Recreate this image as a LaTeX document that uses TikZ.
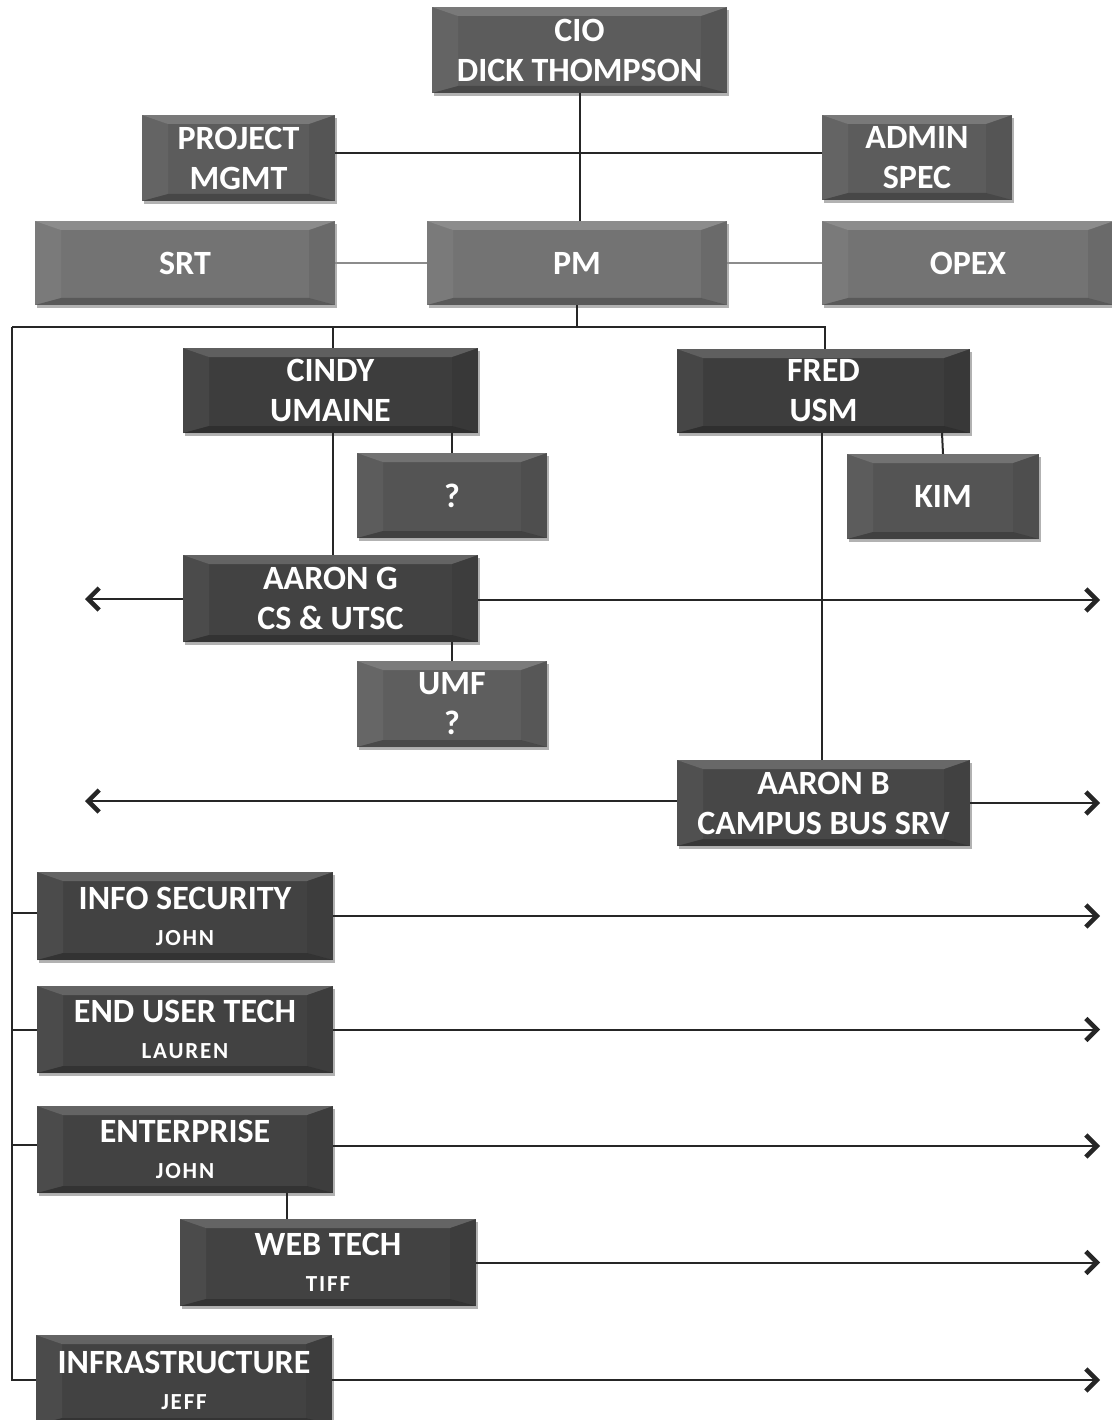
\documentclass[tikz,border=0pt]{standalone}
\usepackage{fontspec}
\setmainfont{Carlito}
\usetikzlibrary{arrows.meta,shadows}
\newcommand\subline[1]{\\[-4pt]{\fontsize{23}{26}\selectfont\addfontfeature{LetterSpace=8}#1}}
\tikzset{
  box/.style={fill=#1, text=white, align=center, inner sep=0pt,
    font=\bfseries\fontsize{34}{40}\selectfont,
    drop shadow={opacity=0.3, shadow xshift=2pt, shadow yshift=-3pt, fill=black},
    path picture={
      \fill[white,opacity=.18] (path picture bounding box.north west) -- (path picture bounding box.north east)
        -- ([xshift=-26pt,yshift=-9pt]path picture bounding box.north east) -- ([xshift=26pt,yshift=-9pt]path picture bounding box.north west) -- cycle;
      \fill[white,opacity=.05] (path picture bounding box.north west) -- ([xshift=26pt,yshift=-9pt]path picture bounding box.north west)
        -- ([xshift=26pt,yshift=7pt]path picture bounding box.south west) -- (path picture bounding box.south west) -- cycle;
      \fill[black,opacity=.07] (path picture bounding box.north east) -- ([xshift=-26pt,yshift=-9pt]path picture bounding box.north east)
        -- ([xshift=-26pt,yshift=7pt]path picture bounding box.south east) -- (path picture bounding box.south east) -- cycle;
      \fill[black,opacity=.22] (path picture bounding box.south west) -- ([xshift=26pt,yshift=7pt]path picture bounding box.south west)
        -- ([xshift=-26pt,yshift=7pt]path picture bounding box.south east) -- (path picture bounding box.south east) -- cycle;
    }},
  conn/.style={draw=black!85, line width=2pt},
  light/.style={draw=black!45, line width=1.5pt},
  arr/.style={conn, -{Straight Barb[length=11pt,width=22pt,line width=4.5pt 0]}},
}
\begin{document}
\begin{tikzpicture}[x=1pt,y=-1pt]
\useasboundingbox (0,0) rectangle (1111,1420);
% top
\node[box=black!64, minimum width=295, minimum height=86] (cio) at (579.5,50) {CIO\\DICK THOMPSON};
\node[box=black!64, minimum width=193, minimum height=86] (pmgmt) at (238.5,158) {PROJECT\\MGMT};
\node[box=black!64, minimum width=190, minimum height=85] (admin) at (917,157.5) {ADMIN\\SPEC};
\node[box=black!55, minimum width=300, minimum height=84] (srt) at (185,263) {SRT};
\node[box=black!55, minimum width=300, minimum height=84] (pm) at (577,263) {PM};
\node[box=black!55, minimum width=292, minimum height=84] (opex) at (968,263) {OPEX};
% middle
\node[box=black!76, minimum width=295, minimum height=85] (cindy) at (330.5,390.5) {CINDY\\UMAINE};
\node[box=black!76, minimum width=293, minimum height=84] (fred) at (823.5,391) {FRED\\USM};
\node[box=black!67, minimum width=190, minimum height=85] (q) at (452,495.5) {?};
\node[box=black!67, minimum width=192, minimum height=85] (kim) at (943,496.5) {KIM};
\node[box=black!74, minimum width=295, minimum height=87] (aarong) at (330.5,598.5) {AARON G\\CS \& UTSC};
\node[box=black!63, minimum width=190, minimum height=86] (umf) at (452,704) {UMF\\?};
\node[box=black!72, minimum width=293, minimum height=86] (aaronb) at (823.5,803) {AARON B\\CAMPUS BUS SRV};
% bottom
\node[box=black!74, minimum width=296, minimum height=88] (infosec) at (185,916) {INFO SECURITY\subline{JOHN}};
\node[box=black!74, minimum width=296, minimum height=87] (enduser) at (185,1029.5) {END USER TECH\subline{LAUREN}};
\node[box=black!74, minimum width=296, minimum height=87] (enterprise) at (185,1149.5) {ENTERPRISE\subline{JOHN}};
\node[box=black!74, minimum width=296, minimum height=87] (webtech) at (328,1262.5) {WEB TECH\subline{TIFF}};
\node[box=black!74, minimum width=296, minimum height=90] (infra) at (184,1380) {INFRASTRUCTURE\subline{JEFF}};
% coordinates
\coordinate (busL) at (12,327);
\coordinate (busR) at (825,327);
\coordinate (arrL) at (85,0);
\coordinate (arrR) at (1100,0);
% connectors
\draw[conn] (cio.south) -- (cio.south |- pm.north);
\draw[conn] (pmgmt.east |- 0,153) -- (admin.west |- 0,153);
\draw[light] (srt.east) -- (pm.west);
\draw[light] (pm.east) -- (opex.west);
\draw[conn] (pm.south) -- (pm.south |- busL);
\draw[conn] (busL) -- (busR) -- (busR |- fred.north);
\draw[conn] (333,327) -- (333,348);
\draw[conn] (452,433) -- (q.north);
\draw[conn] (942,433) -- (kim.north);
\draw[conn] (333,433) -- (aarong.north -| 333,0);
\draw[conn] (452,642) -- (umf.north);
\draw[conn] (822,433) -- (aaronb.north -| 822,0);
\draw[conn] (287,1193) -- (webtech.north -| 287,0);
\draw[conn] (busL) |- (infra.west);
\draw[conn] (infosec.west |- 0,913) -- (12,913);
\draw[conn] (enduser.west) -- (enduser.west -| busL);
\draw[conn] (enterprise.west |- 0,1145) -- (12,1145);
% arrows
\draw[arr] (aarong.west |- 0,599) -- (arrL |- 0,599);
\draw[arr] (aarong.east |- 0,600) -- (arrR |- 0,600);
\draw[arr] (aaronb.west |- 0,801) -- (arrL |- 0,801);
\draw[arr] (aaronb.east) -- (aaronb.east -| arrR);
\draw[arr] (infosec.east) -- (infosec.east -| arrR);
\draw[arr] (enduser.east) -- (enduser.east -| arrR);
\draw[arr] (enterprise.east |- 0,1146) -- (arrR |- 0,1146);
\draw[arr] (webtech.east) -- (webtech.east -| arrR);
\draw[arr] (infra.east) -- (infra.east -| arrR);
\end{tikzpicture}
\end{document}
